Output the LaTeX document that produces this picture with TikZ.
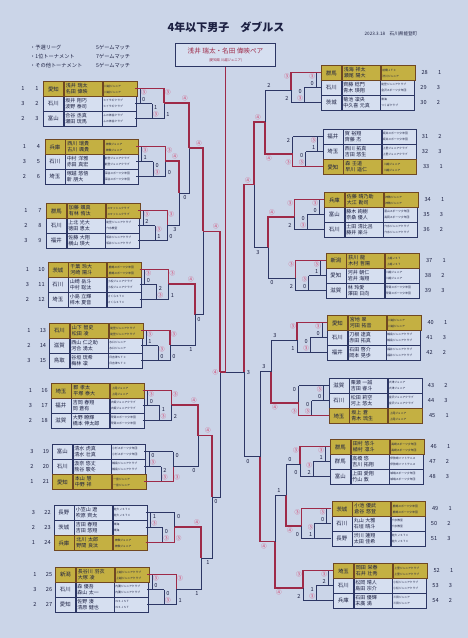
\documentclass[tikz,border=0pt]{standalone}
\usepackage{fontspec}
\setmainfont{Noto Sans CJK JP}
\usetikzlibrary{calc}
\definecolor{paper}{RGB}{203,213,232}
\definecolor{rowbg}{RGB}{214,223,240}
\definecolor{mustard}{RGB}{196,176,66}
\definecolor{brownb}{RGB}{112,72,34}
\definecolor{navy}{RGB}{44,54,100}
\definecolor{ink}{RGB}{28,32,66}
\definecolor{wred}{RGB}{158,42,72}
\definecolor{scred}{RGB}{214,60,105}
\newcommand{\wiii}{\textcolor{scred}{③}}
\newcommand{\wiv}{\textcolor{scred}{④}}
% one pair row: name, x, y, look, rank, no., pref, names, clubs
\newcommand{\rowL}[9]{%
  \node[pf,#4,anchor=north west] (#1) at (#2,#3) {#7};
  \node[nm,#4,anchor=north west] (#1n) at (#1.north east) {#8};
  \node[cl,#4,anchor=north west] (#1c) at (#1n.north east) {#9};
  \node[num] (#1k) at ([xshift=-6pt]#1.west) {#6};
  \node[num] (#1r) at ([xshift=-20pt]#1.west) {#5};
}
\newcommand{\rowR}[9]{%
  \node[pf,#4,anchor=north west] (#1) at (#2,#3) {#7};
  \node[nm,#4,anchor=north west] (#1n) at (#1.north east) {#8};
  \node[cl,#4,anchor=north west] (#1c) at (#1n.north east) {#9};
  \node[num] (#1k) at ([xshift=9pt]#1c.east) {#6};
  \node[num] (#1r) at ([xshift=24pt]#1c.east) {#5};
}
% league lines: prefix, group top, winner row, six scores
\newcommand{\leagueL}[9]{%
  \pgfmathsetmacro\lgx{43+(#2-81)*0.025+92}%
  \pgfmathsetmacro\lgw{#2-7.5+#3*15}%
  \coordinate (#1x) at (\lgx+29,#2+22);
  \draw[lg] (\lgx,#2+7.5) -- ++(29,0) (\lgx,#2+22.5) -- ++(17,0) (\lgx,#2+37.5) -- ++(29,0)
    (\lgx+5,#2+7.5) -- ++(0,15) (\lgx+17,#2+22.5) -- ++(0,15) (\lgx+29,#2+7.5) -- ++(0,30);
  \draw[win] (\lgx,\lgw) -- (\lgx+29,\lgw) -- (#1x);
  \node[sco] (#1s1) at (\lgx+8.8,#2+11.7) {#4};
  \node[sco] (#1s2) at (\lgx+8.8,#2+18.3) {#5};
  \node[sco] (#1s3) at (\lgx+20.8,#2+26.7) {#6};
  \node[sco] (#1s4) at (\lgx+20.8,#2+33.3) {#7};
  \node[sco] (#1s5) at (\lgx+33,#2+11.7) {#8};
  \node[sco] (#1s6) at (\lgx+33,#2+33.3) {#9};
}
\newcommand{\leagueR}[9]{%
  \pgfmathsetmacro\lgx{321+(#2-65)*0.024}%
  \pgfmathsetmacro\lgw{#2-7.5+#3*15}%
  \coordinate (#1x) at (\lgx-30,#2+25);
  \draw[lg] (\lgx,#2+7.5) -- ++(-30,0) (\lgx,#2+22.5) -- ++(-17,0) (\lgx,#2+37.5) -- ++(-30,0)
    (\lgx-5,#2+7.5) -- ++(0,15) (\lgx-17,#2+22.5) -- ++(0,15) (\lgx-30,#2+7.5) -- ++(0,30);
  \draw[win] (\lgx,\lgw) -- (\lgx-30,\lgw) -- (#1x);
  \node[sco] (#1s1) at (\lgx-8.8,#2+11.7) {#4};
  \node[sco] (#1s2) at (\lgx-8.8,#2+18.3) {#5};
  \node[sco] (#1s3) at (\lgx-20.8,#2+26.7) {#6};
  \node[sco] (#1s4) at (\lgx-20.8,#2+33.3) {#7};
  \node[sco] (#1s5) at (\lgx-34,#2+11.7) {#8};
  \node[sco] (#1s6) at (\lgx-34,#2+33.3) {#9};
}
% one match: name, x, top, bottom, top look, bottom look, top score, bottom score, label shift
\newcommand{\bout}[9]{%
  \coordinate (#1t) at (#2,0 |- #3);
  \coordinate (#1b) at (#2,0 |- #4);
  \coordinate (#1) at ($(#1t)!.5!(#1b)$);
  \draw[#5] (#3) -- (#1t) -- (#1);
  \draw[#6] (#4) -- (#1b) -- (#1);
  \node[sco] (#1ts) at ([xshift=#9pt,yshift=4.8pt]#1t) {#7};
  \node[sco] (#1bs) at ([xshift=#9pt,yshift=-4.8pt]#1b) {#8};
}
\begin{document}
\begin{tikzpicture}[x=1pt,y=-1pt,
    lg/.style  ={draw=navy, line width=0.5pt},
    win/.style ={draw=wred, line width=1.1pt},
    lose/.style={draw=navy, line width=0.5pt},
    sco/.style ={font=\fontsize{5.6}{6}\selectfont, text=ink, inner sep=0pt},
    cell/.style={draw=navy, fill=rowbg, minimum height=15pt, text=ink, line width=0.5pt},
    pf/.style  ={cell, minimum width=20pt, inner sep=0pt, font=\fontsize{5.4}{6}\selectfont},
    nm/.style  ={cell, text width=35pt, inner xsep=1.5pt, inner ysep=1pt, align=left, font=\fontsize{5}{6}\selectfont},
    cl/.style  ={cell, text width=32pt, inner xsep=1pt, inner ysep=1pt, align=left, font=\fontsize{2.8}{6}\selectfont},
    wrow/.style={fill=mustard, draw=brownb, line width=0.9pt},
    lrow/.style={},
    num/.style ={font=\fontsize{5.6}{6}\selectfont, text=ink, inner sep=0pt},
    note/.style={font=\fontsize{5.2}{6}\selectfont, text=ink, inner sep=0pt, anchor=west},
  ]
  \fill[paper] (0,0) rectangle (468,638);
  \useasboundingbox (0,0) rectangle (468,638);

  % heading
  \node[font=\fontsize{11}{13}\selectfont\bfseries, text=ink] (title) at (226,27) {4年以下男子　ダブルス};
  \node[font=\fontsize{4.6}{5}\selectfont, text=ink] (date) at (391,34) {2023.3.18　石川県能登町};
  \node[note] (r1) at (30,48) {・予選リーグ};
  \node[note] (r2) at (30,57) {・1位トーナメント};
  \node[note] (r3) at (30,66) {・その他トーナメント};
  \node[note] (m1) at (96,48) {5ゲームマッチ};
  \node[note] (m2) at (96,57) {7ゲームマッチ};
  \node[note] (m3) at (96,66) {5ゲームマッチ};
  \node[draw=navy, fill=rowbg, line width=0.6pt, minimum width=100pt, minimum height=23pt, align=center,
    text=wred, font=\fontsize{6.6}{7.5}\selectfont] (champ) at (225.5,55)
    {浅井 瑞太・名田 偉映ペア\\{\fontsize{3.4}{4}\selectfont (愛知県 川越ジュニア)}};

  % left groups
  \rowL{p2}{43}{96}{lrow}{3}{2}{石川}{坂井 翔巧\\波野 泰司}{ヒイラギクラブ\\ヒイラギクラブ}
  \rowL{p3}{43}{111}{lrow}{2}{3}{富山}{合谷 丞真\\瀬田 琉馬}{ふの体協クラブ\\ふの体協クラブ}
  \rowL{p1}{43}{81}{wrow}{1}{1}{愛知}{浅井 瑞太\\名田 偉映}{川越ジュニア\\川越ジュニア}

  \rowL{p5}{44.5}{154}{lrow}{3}{5}{石川}{中村 洋雅\\赤田 真宏}{能登ジュニアクラブ\\能登ジュニアクラブ}
  \rowL{p6}{44.5}{169}{lrow}{2}{6}{埼玉}{塚越 悠悟\\新 朋大}{深谷スポーツ少年団\\深谷スポーツ少年団}
  \rowL{p4}{44.5}{139}{wrow}{1}{4}{兵庫}{西川 瑞貴\\古川 颯貴}{神鉄ジュニア\\神鉄ジュニア}

  \rowL{p8}{46}{218}{lrow}{2}{8}{石川}{上北 光大\\徳田 恵太}{能登ジュニアクラブ\\穴水教室}
  \rowL{p9}{46}{233}{lrow}{3}{9}{福井}{佐藤 大翔\\横山 瑛大}{坂井ジュニアクラブ\\坂井ジュニアクラブ}
  \rowL{p7}{46}{203}{wrow}{1}{7}{群馬}{加藤 颯真\\有林 侑汰}{スマッシュクラブ\\スマッシュクラブ}

  \rowL{p11}{47.5}{277}{lrow}{3}{11}{石川}{山崎 岳斗\\中村 聡汰}{小松ジュニアクラブ\\小松ジュニアクラブ}
  \rowL{p12}{47.5}{292}{lrow}{2}{12}{埼玉}{小島 立輝\\梓木 夏音}{さくらＳＴＣ\\さくらＳＴＣ}
  \rowL{p10}{47.5}{262}{wrow}{1}{10}{茨城}{千葉 玲大\\河崎 陽斗}{鹿嶋スポーツ少年団\\鹿嶋スポーツ少年団}

  \rowL{p14}{49}{338}{lrow}{2}{14}{滋賀}{西山 仁之助\\河合 湧太}{水口ジュニア\\水口ジュニア}
  \rowL{p15}{49}{353}{lrow}{3}{15}{鳥取}{谷垣 琉希\\梅林 凜}{日吉津ＳＴＣ\\日吉津ＳＴＣ}
  \rowL{p13}{49}{323}{wrow}{1}{13}{石川}{山下 智史\\松田 凌}{能登ジュニアクラブ\\能登ジュニアクラブ}

  \rowL{p17}{50.5}{398}{lrow}{3}{17}{福井}{吉岡 春翔\\岡 蒼有}{大飯ジュニアクラブ\\大飯ジュニアクラブ}
  \rowL{p18}{50.5}{413}{lrow}{2}{18}{滋賀}{大野 瞭輝\\橋本 伸太郎}{甲賀スポーツ少年団\\甲賀スポーツ少年団}
  \rowL{p16}{50.5}{383}{wrow}{1}{16}{埼玉}{郡 孝太\\平塚 泰大}{上尾ジュニア\\上尾ジュニア}

  \rowL{p19}{52}{444}{lrow}{3}{19}{富山}{清水 虎真\\清水 壮真}{小杉スポーツ少年団\\小杉スポーツ少年団}
  \rowL{p20}{52}{459}{lrow}{2}{20}{石川}{汲奈 悠丈\\熊谷 駿冬}{輪島ジュニアクラブ\\輪島ジュニアクラブ}
  \rowL{p21}{52}{474}{wrow}{1}{21}{愛知}{本山 慧\\中野 祥}{一宮ジュニア\\一宮ジュニア}

  \rowL{p22}{53.5}{505}{lrow}{3}{22}{長野}{小笠山 遼\\吹原 齊太}{佐久ＪＳＴＣ\\佐久ＪＳＴＣ}
  \rowL{p23}{53.5}{520}{lrow}{2}{23}{茨城}{吉田 春翔\\吉田 悠翔}{東海\\東海}
  \rowL{p24}{53.5}{535}{wrow}{1}{24}{兵庫}{北川 太郎\\野間 良汰}{神鉄ジュニア\\神鉄ジュニア}

  \rowL{p26}{55}{582}{lrow}{3}{26}{石川}{森 優吾\\森山 太一}{内灘ジュニアクラブ\\内灘ジュニアクラブ}
  \rowL{p27}{55}{597}{lrow}{2}{27}{愛知}{佐野 湊\\清原 健也}{ＮＳＪＳＴ\\ＮＳＪＳＴ}
  \rowL{p25}{55}{567}{wrow}{1}{25}{新潟}{長谷川 羽衣\\大塚 凌}{上越ジュニアクラブ\\上越ジュニアクラブ}

  % right groups
  \rowR{p29}{321}{80}{lrow}{3}{29}{石川}{齊藤 稔門\\青木 瑛翔}{能登ジュニアクラブ\\金沢スポーツ少年団}
  \rowR{p30}{321}{95}{lrow}{2}{30}{茨城}{菊池 凜央\\中久喜 元真}{東海\\つくばクラブ}
  \rowR{p28}{321}{65}{wrow}{1}{28}{群馬}{浅海 祥太\\瀬尾 陽大}{前橋ＪＴＣ\\渋川ジュニア}

  \rowR{p31}{322.5}{129}{lrow}{2}{31}{福井}{賀 裕翔\\齊藤 杰}{坂井スポーツ少年団\\坂井スポーツ少年団}
  \rowR{p32}{322.5}{144}{lrow}{3}{32}{埼玉}{西川 拓真\\吉田 悠生}{上里ジュニアクラブ\\上里ジュニアクラブ}
  \rowR{p33}{322.5}{159}{wrow}{1}{33}{愛知}{森 壬道\\早川 遥仁}{川越ジュニア\\川越ジュニア}

  \rowR{p35}{324}{207}{lrow}{3}{35}{富山}{藤木 絢樹\\奈桑 優人}{富山スポーツ少年団\\高岡スポーツ少年団}
  \rowR{p36}{324}{222}{lrow}{2}{36}{石川}{土田 清比呂\\藤井 楽斗}{穴水ジュニアクラブ\\穴水ジュニアクラブ}
  \rowR{p34}{324}{192}{wrow}{1}{34}{兵庫}{佐藤 晴乃助\\大江 勘司}{神鉄ジュニア\\神鉄ジュニア}

  \rowR{p38}{325.5}{268}{lrow}{2}{38}{愛知}{河井 朝仁\\岩井 海翔}{川越ジュニア\\川越ジュニア}
  \rowR{p39}{325.5}{283}{lrow}{3}{39}{滋賀}{林 玲愛\\澤田 日向}{甲賀スポーツ少年団\\甲賀スポーツ少年団}
  \rowR{p37}{325.5}{253}{wrow}{1}{37}{新潟}{荻川 龍\\木村 哲陽}{上越ＪＳＴ\\上越ＪＳＴ}

  \rowR{p41}{327}{330}{lrow}{3}{41}{石川}{刀根 達真\\赤田 拓真}{輪島ジュニアクラブ\\輪島ジュニアクラブ}
  \rowR{p42}{327}{345}{lrow}{2}{42}{福井}{石田 啓介\\岡本 晃歩}{福井ジュニアクラブ\\福井ジュニアクラブ}
  \rowR{p40}{327}{315}{wrow}{1}{40}{愛知}{宮地 翠\\河田 拓音}{川越ジュニア\\川越ジュニア}

  \rowR{p43}{328.5}{378}{lrow}{2}{43}{滋賀}{栗瀬 一誠\\吉田 睿斗}{大津ジュニア\\大津ジュニア}
  \rowR{p44}{328.5}{393}{lrow}{3}{44}{石川}{松田 莉空\\河上 悠太}{金沢ジュニアクラブ\\金沢ジュニアクラブ}
  \rowR{p45}{328.5}{408}{wrow}{1}{45}{埼玉}{坂上 蒼\\青木 琉生}{上尾ジュニア\\上尾ジュニア}

  \rowR{p47}{330}{454}{lrow}{2}{47}{群馬}{高橋 悠\\吉川 拓翔}{伊勢崎ソフトテニス\\伊勢崎ソフトテニス}
  \rowR{p48}{330}{469}{lrow}{3}{48}{富山}{上田 愛翔\\竹山 敦}{城端スポーツ少年団\\城端スポーツ少年団}
  \rowR{p46}{330}{439}{wrow}{1}{46}{群馬}{田村 悠斗\\植村 凛斗}{高崎スポーツ少年団\\高崎スポーツ少年団}

  \rowR{p50}{331.5}{516}{lrow}{2}{50}{石川}{丸山 大雅\\石垣 晴斗}{穴水教室\\穴水教室}
  \rowR{p51}{331.5}{531}{lrow}{3}{51}{長野}{渋川 蓮翔\\太田 佳希}{佐久ＪＳＴＣ\\佐久ＪＳＴＣ}
  \rowR{p49}{331.5}{501}{wrow}{1}{49}{茨城}{小池 優武\\倉谷 悠登}{鹿嶋スポーツ少年団\\鹿嶋スポーツ少年団}

  \rowR{p53}{333}{578}{lrow}{3}{53}{石川}{松岡 晴人\\島田 宗介}{小松ジュニアクラブ\\小松ジュニアクラブ}
  \rowR{p54}{333}{593}{lrow}{2}{54}{兵庫}{石田 優輝\\末廣 満}{三田ジュニア\\三田ジュニア}
  \rowR{p52}{333}{563}{wrow}{1}{52}{埼玉}{岡田 栄春\\石井 壮秀}{上里ジュニアクラブ\\上里ジュニアクラブ}

  % league results
  \leagueL{g1}{81}{1}{\wiii}{0}{1}{\wiii}{\wiii}{1}
  \leagueL{g2}{139}{1}{\wiii}{1}{0}{\wiii}{\wiii}{0}
  \leagueL{g3}{203}{1}{\wiii}{2}{\wiii}{1}{\wiii}{0}
  \leagueL{g4}{262}{1}{\wiii}{0}{2}{\wiii}{\wiii}{1}
  \leagueL{g5}{323}{1}{\wiii}{1}{\wiii}{0}{\wiii}{0}
  \leagueL{g6}{383}{1}{\wiii}{0}{1}{\wiii}{\wiii}{2}
  \leagueL{g7}{444}{3}{0}{\wiii}{2}{\wiii}{0}{\wiii}
  \leagueL{g8}{505}{3}{1}{\wiii}{0}{\wiii}{0}{\wiii}
  \leagueL{g9}{567}{1}{\wiii}{0}{0}{\wiii}{\wiii}{1}
  \leagueR{g10}{65}{1}{\wiii}{0}{0}{\wiii}{\wiii}{2}
  \leagueR{g11}{129}{3}{\wiii}{1}{0}{\wiii}{2}{\wiii}
  \leagueR{g12}{192}{1}{\wiii}{0}{0}{\wiii}{\wiii}{2}
  \leagueR{g13}{253}{1}{\wiii}{1}{\wiii}{0}{\wiii}{2}
  \leagueR{g14}{315}{1}{\wiii}{0}{0}{\wiii}{\wiii}{1}
  \leagueR{g15}{378}{3}{\wiii}{0}{0}{\wiii}{0}{\wiii}
  \leagueR{g16}{439}{1}{\wiii}{1}{\wiii}{2}{\wiii}{0}
  \leagueR{g17}{501}{1}{\wiii}{0}{\wiii}{1}{\wiii}{0}
  \leagueR{g18}{563}{1}{\wiii}{2}{1}{\wiii}{\wiii}{2}

  % 1st place tournament, left half
  \bout{L1}{179}{g2x}{g3x}{win}{lose}{\wiv}{3}{-4}
  \bout{L2}{189}{g1x}{L1}{win}{lose}{\wiv}{0}{-4}
  \bout{L3}{195}{g4x}{g5x}{win}{lose}{\wiv}{1}{-4}
  \bout{L4}{203}{L2}{L3}{win}{lose}{\wiv}{0}{-4}
  \bout{L5}{198}{g6x}{g7x}{win}{lose}{\wiv}{0}{-4}
  \bout{L6}{201}{g8x}{g9x}{win}{lose}{\wiv}{1}{-4}
  \bout{L7}{212}{L5}{L6}{win}{lose}{\wiv}{1}{-4}
  \coordinate (L8t) at (220,0 |- L4);
  \coordinate (L8b) at (220,0 |- L7);
  \coordinate (L8) at (220,372);
  \draw[lose] (L7) -- (L8b) -- (L8);
  \draw[win] (L4) -- (L8t) -- (L8);
  \node[sco] (L8ts) at ([xshift=-4pt,yshift=4.8pt]L8t) {\wiv};
  \node[sco] (L8bs) at ([xshift=-4pt,yshift=-4.8pt]L8b) {0};

  % right half
  \bout{R1}{265}{g10x}{g11x}{lose}{win}{2}{\wiv}{4}
  \bout{R2}{268}{g12x}{g13x}{win}{lose}{\wiv}{0}{4}
  \bout{R3}{254}{R1}{R2}{win}{lose}{\wiv}{3}{4}
  \bout{R4}{271}{g14x}{g15x}{lose}{win}{3}{\wiv}{4}
  \bout{R5}{286}{g16x}{g17x}{lose}{win}{0}{\wiv}{4}
  \bout{R6}{275}{R5}{g18x}{lose}{win}{1}{\wiv}{4}
  \bout{R7}{260}{R4}{R6}{lose}{win}{3}{\wiv}{4}
  \coordinate (R8t) at (244,0 |- R3);
  \coordinate (R8b) at (244,0 |- R7);
  \coordinate (R8) at (244,372);
  \draw[lose] (R7) -- (R8b) -- (R8);
  \draw[win] (R3) -- (R8t) -- (R8);
  \node[sco] (R8ts) at ([xshift=4pt,yshift=4.8pt]R8t) {\wiv};
  \node[sco] (R8bs) at ([xshift=4pt,yshift=-4.8pt]R8b) {0};

  % final
  \coordinate (fin) at (champ.south |- L8);
  \draw[lose] (R8) -- (fin);
  \draw[win] (L8) -- (fin) (champ.south) -- (fin);
  \node[sco] (fls) at ([xshift=-4.5pt]L8) {\wiv};
  \node[sco] (frs) at ([xshift=4.5pt]R8) {3};
\end{tikzpicture}
\end{document}
